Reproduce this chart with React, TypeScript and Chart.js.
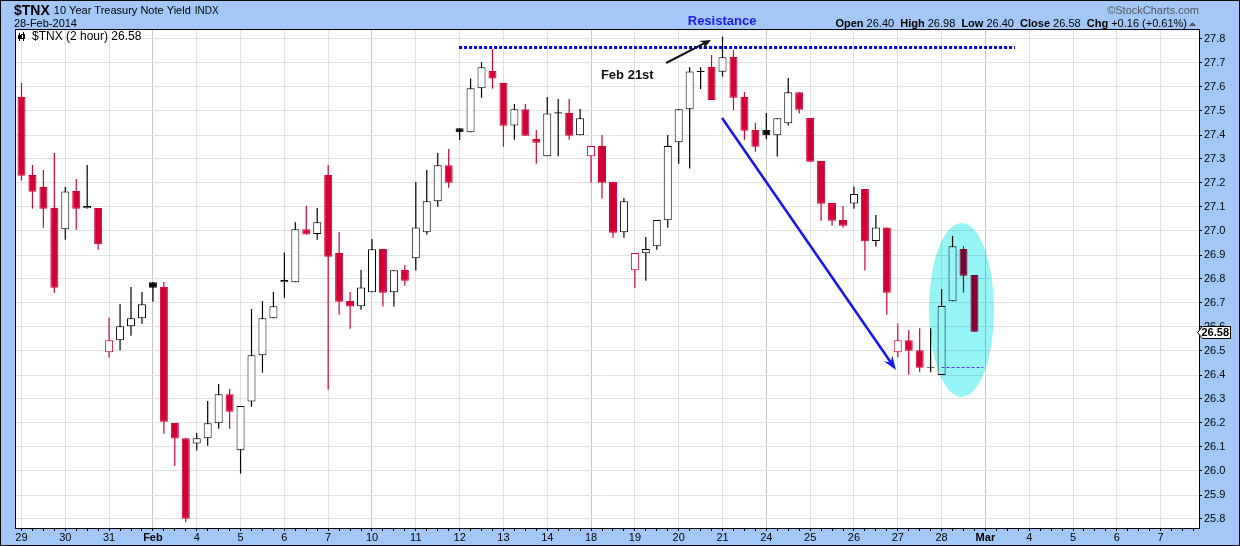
import React, { useEffect, useRef } from 'react';
import { Chart, registerables } from 'chart.js';

Chart.register(...registerables);

// ---------------- data ----------------
const DAY_LABELS = ['29', '30', '31', 'Feb', '4', '5', '6', '7', '10', '11', '12', '13', '14', '18', '19', '20', '21', '24', '25', '26', '27', '28', 'Mar', '4', '5', '6', '7'];
const WEEK_START_DAYS = ['Feb', '10', '18', '24', 'Mar'];
const MONTH_DAYS = ['Feb', 'Mar'];
const BARS_PER_DAY = 4;

const OPEN = [
  27.558, 27.233, 27.183, 27.096, 27.007, 27.167, 27.095, 27.096,
  26.495, 26.545, 26.603, 26.636, 26.786, 26.767, 26.2, 26.136,
  26.115, 26.136, 26.199, 26.32, 26.086, 26.29, 26.482, 26.636,
  26.786, 26.786, 27.007, 26.988, 27.233, 26.908, 26.708, 26.686,
  26.745, 26.925, 26.745, 26.838, 26.886, 26.995, 27.124, 27.274,
  27.428, 27.411, 27.595, 27.667, 27.617, 27.44, 27.507, 27.383,
  27.311, 27.49, 27.492, 27.399, 27.311, 27.354, 27.204, 26.995,
  26.836, 26.907, 26.936, 27.045, 27.37, 27.507, 27.663, 27.683,
  27.664, 27.725, 27.558, 27.421, 27.421, 27.399, 27.449, 27.578,
  27.471, 27.292, 27.117, 27.046, 27.115, 27.175, 26.958, 27.015,
  26.495, 26.545, 26.503, 26.43, 26.4, 26.707, 26.925, 26.817,
];
const HIGH = [
  27.618, 27.275, 27.254, 27.325, 27.183, 27.217, 27.275, 27.096,
  26.639, 26.696, 26.767, 26.746, 26.786, 26.788, 26.2, 26.136,
  26.158, 26.292, 26.363, 26.342, 26.271, 26.675, 26.708, 26.746,
  26.91, 27.036, 27.105, 27.096, 27.275, 26.996, 26.746, 26.838,
  26.967, 26.925, 26.836, 26.858, 27.204, 27.254, 27.325, 27.342,
  27.428, 27.636, 27.704, 27.758, 27.617, 27.529, 27.529, 27.421,
  27.558, 27.55, 27.55, 27.508, 27.354, 27.4, 27.204, 27.137,
  26.908, 26.975, 27.046, 27.4, 27.507, 27.682, 27.682, 27.733,
  27.81, 27.754, 27.579, 27.45, 27.492, 27.47, 27.638, 27.578,
  27.471, 27.292, 27.117, 27.104, 27.185, 27.175, 27.067, 27.015,
  26.615, 26.586, 26.595, 26.595, 26.758, 26.98, 26.936, 26.817,
];
const LOW = [
  27.21, 27.093, 27.014, 26.743, 26.964, 27.005, 27.094, 26.922,
  26.472, 26.503, 26.564, 26.614, 26.705, 26.155, 26.022, 25.785,
  26.085, 26.105, 26.176, 26.176, 25.989, 26.268, 26.41, 26.636,
  26.722, 26.786, 26.985, 26.964, 26.339, 26.651, 26.593, 26.672,
  26.745, 26.685, 26.685, 26.772, 26.835, 26.985, 27.101, 27.18,
  27.379, 27.411, 27.555, 27.593, 27.351, 27.38, 27.397, 27.28,
  27.311, 27.311, 27.38, 27.399, 27.201, 27.135, 26.972, 26.972,
  26.764, 26.793, 26.922, 27.014, 27.28, 27.26, 27.592, 27.546,
  27.643, 27.504, 27.38, 27.33, 27.382, 27.31, 27.44, 27.49,
  27.289, 27.043, 27.022, 27.014, 27.093, 26.835, 26.935, 26.651,
  26.474, 26.401, 26.411, 26.411, 26.4, 26.707, 26.743, 26.58,
];
const CLOSE = [
  27.23, 27.164, 27.093, 26.764, 27.165, 27.093, 27.104, 26.945,
  26.545, 26.603, 26.636, 26.695, 26.764, 26.205, 26.135, 25.801,
  26.136, 26.199, 26.32, 26.247, 26.271, 26.482, 26.636, 26.686,
  26.796, 27.007, 26.985, 27.036, 26.893, 26.705, 26.685, 26.765,
  26.924, 26.743, 26.836, 26.793, 27.015, 27.124, 27.274, 27.201,
  27.411, 27.595, 27.682, 27.635, 27.439, 27.507, 27.397, 27.368,
  27.49, 27.495, 27.397, 27.47, 27.354, 27.201, 26.993, 27.124,
  26.908, 26.925, 27.046, 27.354, 27.507, 27.665, 27.667, 27.546,
  27.724, 27.555, 27.418, 27.351, 27.399, 27.47, 27.578, 27.505,
  27.289, 27.114, 27.043, 27.022, 27.154, 26.957, 27.015, 26.743,
  26.545, 26.501, 26.43, 26.434, 26.688, 26.936, 26.814, 26.58,
];
const PRIOR_CLOSE = 27.62;

const Y_TICKS = [25.8, 25.9, 26.0, 26.1, 26.2, 26.3, 26.4, 26.5, 26.6, 26.7, 26.8, 26.9, 27.0, 27.1, 27.2, 27.3, 27.4, 27.5, 27.6, 27.7, 27.8];
const Y_MIN = 25.7625;
const Y_MAX = 27.8375;

const QUOTE_OPEN = 26.4;
const QUOTE_HIGH = 26.98;
const QUOTE_LOW = 26.4;
const QUOTE_CLOSE = 26.58;
const QUOTE_CHG = 0.16;
const QUOTE_PCT = 0.61;

// annotations (in data units: slot index / price)
const RESISTANCE = { level: 27.767, from: 39.95, to: 90.7 };
const BLACK_ARROW = { from: [58.85, 27.7], to: [62.95, 27.796] };
const BLUE_ARROW = { from: [63.96, 27.471], to: [79.84, 26.421] };
const FEB21_LABEL = { at: [52.9, 27.65], text: 'Feb 21st' };
const RESISTANCE_LABEL = { at: [63.96, 27.875], text: 'Resistance' };
const HIGHLIGHT = { center: [85.82, 26.671], halfSlots: 2.97, halfPrice: 0.3625 };
const OPEN_LINE = { level: 26.432, from: 84, to: 87.8 };

// ---------------- derived ----------------
const SLOT_LABELS: string[] = DAY_LABELS.flatMap((d) => [d, ...Array(BARS_PER_DAY - 1).fill('')]);
const RED = '#d10035';
const BLACK = '#000000';
const PANEL = '#a3c8f7';
const FONT = "'Liberation Sans', Arial, sans-serif";

const candleColor = CLOSE.map((c, i) => (c < (i === 0 ? PRIOR_CLOSE : CLOSE[i - 1]) ? RED : BLACK));
const candleFill = CLOSE.map((c, i) => (c >= OPEN[i] ? '#ffffff' : candleColor[i]));

function arrow(ctx: CanvasRenderingContext2D, x1: number, y1: number, x2: number, y2: number, color: string, w: number, hl: number, hw: number) {
  const a = Math.atan2(y2 - y1, x2 - x1);
  const c = Math.cos(a), s = Math.sin(a);
  ctx.strokeStyle = color;
  ctx.fillStyle = color;
  ctx.lineWidth = w;
  ctx.beginPath();
  ctx.moveTo(x1, y1);
  ctx.lineTo(x2 - c * hl * 0.6, y2 - s * hl * 0.6);
  ctx.stroke();
  ctx.beginPath();
  ctx.moveTo(x2, y2);
  ctx.lineTo(x2 - c * hl - s * hw, y2 - s * hl + c * hw);
  ctx.lineTo(x2 - c * hl * 0.65, y2 - s * hl * 0.65);
  ctx.lineTo(x2 - c * hl + s * hw, y2 - s * hl - c * hw);
  ctx.closePath();
  ctx.fill();
}

const decor = {
  id: 'decor',
  beforeDraw(chart: any) {
    const { ctx, chartArea: a, width, height } = chart;
    ctx.save();
    ctx.fillStyle = PANEL;
    ctx.fillRect(0, 0, width, height);
    ctx.fillStyle = '#ffffff';
    ctx.fillRect(a.left, a.top, a.right - a.left, a.bottom - a.top);
    ctx.restore();
  },
  afterDatasetsDraw(chart: any) {
    const { ctx, scales } = chart;
    const X = (v: number) => scales.x.getPixelForValue(v);
    const Y = (v: number) => scales.y.getPixelForValue(v);
    ctx.save();
    // highlight ellipse
    ctx.globalCompositeOperation = 'multiply';
    ctx.fillStyle = '#97f4f4';
    const cx = X(HIGHLIGHT.center[0]);
    const cy = Y(HIGHLIGHT.center[1]);
    const rx = X(HIGHLIGHT.center[0] + HIGHLIGHT.halfSlots) - cx;
    const ry = Y(HIGHLIGHT.center[1] - HIGHLIGHT.halfPrice) - cy;
    ctx.beginPath();
    ctx.ellipse(cx, cy, rx, ry, 0, 0, Math.PI * 2);
    ctx.fill();
    ctx.globalCompositeOperation = 'source-over';

    // open dashed line
    ctx.strokeStyle = '#5a2ee0';
    ctx.lineWidth = 1;
    ctx.setLineDash([3, 2]);
    const oy = Math.round(Y(OPEN_LINE.level)) + 0.5;
    ctx.beginPath();
    ctx.moveTo(X(OPEN_LINE.from), oy);
    ctx.lineTo(X(OPEN_LINE.to), oy);
    ctx.stroke();

    // resistance line
    ctx.strokeStyle = '#0000f0';
    ctx.lineWidth = 3;
    ctx.setLineDash([3, 2]);
    const ry2 = Math.round(Y(RESISTANCE.level)) + 0.5;
    ctx.beginPath();
    ctx.moveTo(X(RESISTANCE.from), ry2);
    ctx.lineTo(X(RESISTANCE.to), ry2);
    ctx.stroke();
    ctx.setLineDash([]);

    // arrows
    arrow(ctx, X(BLACK_ARROW.from[0]), Y(BLACK_ARROW.from[1]), X(BLACK_ARROW.to[0]), Y(BLACK_ARROW.to[1]), '#111111', 2, 11, 4.5);
    arrow(ctx, X(BLUE_ARROW.from[0]), Y(BLUE_ARROW.from[1]), X(BLUE_ARROW.to[0]), Y(BLUE_ARROW.to[1]), '#1414ee', 2.5, 14, 5);

    // labels
    ctx.font = `bold 13px ${FONT}`;
    ctx.textBaseline = 'middle';
    ctx.fillStyle = '#111111';
    ctx.textAlign = 'left';
    ctx.fillText(FEB21_LABEL.text, X(FEB21_LABEL.at[0]), Y(FEB21_LABEL.at[1]));
    ctx.fillStyle = '#1a1aee';
    ctx.textAlign = 'center';
    ctx.fillText(RESISTANCE_LABEL.text, X(RESISTANCE_LABEL.at[0]), Y(RESISTANCE_LABEL.at[1]));
    ctx.restore();
  },
  afterDraw(chart: any) {
    const { ctx, chartArea: a, width, height, scales } = chart;
    ctx.save();
    // plot frame
    ctx.strokeStyle = '#000000';
    ctx.lineWidth = 1;
    ctx.strokeRect(a.left - 0.5, a.top - 0.5, a.right - a.left + 1, a.bottom - a.top + 1);
    // outer frame
    ctx.strokeStyle = '#0a0a0a';
    ctx.strokeRect(0.5, 0.5, width - 1, height - 1);

    // legend inside plot
    const lx = a.left + 3;
    ctx.fillStyle = '#000';
    ctx.fillRect(lx, 33, 1, 8);
    ctx.fillRect(lx - 1, 35, 3, 4);
    ctx.fillRect(lx + 4, 32, 1, 9);
    ctx.strokeStyle = '#000';
    ctx.strokeRect(lx + 2.5, 34.5, 3, 4);
    ctx.font = `12px ${FONT}`;
    ctx.textAlign = 'left';
    ctx.textBaseline = 'middle';
    ctx.fillText(`$TNX (2 hour) ${QUOTE_CLOSE.toFixed(2)}`, lx + 13, 37);

    // header
    ctx.textBaseline = 'middle';
    ctx.font = `bold 14px ${FONT}`;
    ctx.fillText('$TNX', 14, 11);
    let hx = 14 + ctx.measureText('$TNX').width + 4;
    ctx.font = `11px ${FONT}`;
    ctx.fillText('10 Year Treasury Note Yield', hx, 11);
    hx += ctx.measureText('10 Year Treasury Note Yield').width + 4;
    ctx.font = `10px ${FONT}`;
    ctx.fillText('INDX', hx, 11);
    ctx.font = `11px ${FONT}`;
    ctx.fillText('28-Feb-2014', 14, 24);

    ctx.fillStyle = '#555555';
    ctx.textAlign = 'right';
    ctx.fillText('\u00A9StockCharts.com', a.right, 11);

    // quote line
    const parts: [string, boolean][] = [
      ['Open ', true], [QUOTE_OPEN.toFixed(2) + '  ', false],
      ['High ', true], [QUOTE_HIGH.toFixed(2) + '  ', false],
      ['Low ', true], [QUOTE_LOW.toFixed(2) + '  ', false],
      ['Close ', true], [QUOTE_CLOSE.toFixed(2) + '  ', false],
      ['Chg ', true], [`+${QUOTE_CHG.toFixed(2)} (+${QUOTE_PCT.toFixed(2)}%)`, false],
    ];
    let total = 0;
    for (const [t, b] of parts) {
      ctx.font = `${b ? 'bold ' : ''}11px ${FONT}`;
      total += ctx.measureText(t).width;
    }
    let qx = 1187 - total;
    ctx.textAlign = 'left';
    ctx.fillStyle = '#000';
    for (const [t, b] of parts) {
      ctx.font = `${b ? 'bold ' : ''}11px ${FONT}`;
      ctx.fillText(t, qx, 24);
      qx += ctx.measureText(t).width;
    }
    ctx.fillStyle = '#555555';
    ctx.beginPath();
    ctx.moveTo(qx + 2, 26);
    ctx.lineTo(qx + 9, 26);
    ctx.lineTo(qx + 5.5, 22);
    ctx.closePath();
    ctx.fill();

    // last price tag
    const ty = Math.round(scales.y.getPixelForValue(QUOTE_CLOSE)) + 0.5;
    const tx = a.right - 1.5;
    ctx.fillStyle = '#ffffff';
    ctx.strokeStyle = '#000000';
    ctx.beginPath();
    ctx.moveTo(tx, ty);
    ctx.lineTo(tx + 5, ty - 6);
    ctx.lineTo(tx + 33, ty - 6);
    ctx.lineTo(tx + 33, ty + 6);
    ctx.lineTo(tx + 5, ty + 6);
    ctx.closePath();
    ctx.fill();
    ctx.stroke();
    ctx.fillStyle = '#000';
    ctx.font = `bold 11px ${FONT}`;
    ctx.textAlign = 'left';
    ctx.fillText(QUOTE_CLOSE.toFixed(2), tx + 4, ty + 0.5);
    ctx.restore();
  },
};

export default function App() {
  const ref = useRef<HTMLCanvasElement>(null);
  useEffect(() => {
    document.body.style.margin = '0';
    const canvas = ref.current!;
    const chart = new Chart(canvas, {
      type: 'bar',
      data: {
        labels: SLOT_LABELS,
        datasets: [
          {
            label: 'body',
            data: OPEN.map((o, i) => [o, CLOSE[i]]) as any,
            backgroundColor: candleFill,
            borderColor: candleColor,
            borderWidth: 1,
            borderSkipped: false,
            barThickness: 8,
            grouped: false,
            inflateAmount: 0,
            order: 0,
          } as any,
          {
            label: 'wick',
            data: LOW.map((l, i) => [l, HIGH[i]]) as any,
            backgroundColor: candleColor,
            borderWidth: 0,
            barThickness: 1.2,
            grouped: false,
            inflateAmount: 0,
            order: 1,
          } as any,
        ],
      },
      options: {
        responsive: false,
        animation: false,
        devicePixelRatio: 1,
        events: [],
        layout: { padding: { left: 16, top: 30, right: 0, bottom: 3 } },
        plugins: { legend: { display: false }, tooltip: { enabled: false }, title: { display: false } },
        scales: {
          x: {
            type: 'category',
            offset: true,
            grid: {
              offset: false,
              color: (c: any) => {
                const l = SLOT_LABELS[c.index];
                if (!l) return 'rgba(0,0,0,0)';
                return WEEK_START_DAYS.includes(l) ? '#c6c6c6' : '#e2e2e2';
              },
              tickColor: '#000',
              tickLength: 3,
              lineWidth: 1,
            },
            border: { display: true, color: '#000' },
            ticks: {
              autoSkip: false,
              maxRotation: 0,
              minRotation: 0,
              padding: 0,
              color: '#000',
              callback: (_v: any, i: number) => SLOT_LABELS[i],
              font: (c: any) => ({
                family: FONT,
                size: 11,
                weight: c.tick && MONTH_DAYS.includes(c.tick.label) ? 'bold' : 'normal',
              }),
            },
            afterFit: (s: any) => { s.height = 15; },
          },
          y: {
            type: 'linear',
            position: 'right',
            min: Y_MIN,
            max: Y_MAX,
            grid: { color: '#e2e2e2', tickColor: '#000', tickLength: 3, lineWidth: 1 },
            border: { display: true, color: '#000' },
            afterBuildTicks: (s: any) => { s.ticks = Y_TICKS.map((v) => ({ value: v })); },
            ticks: {
              padding: 2,
              color: '#000',
              font: { family: FONT, size: 11 },
              callback: (v: any) => Number(v).toFixed(1),
            },
            afterFit: (s: any) => { s.width = 41; },
          },
        },
      } as any,
      plugins: [decor],
    });
    return () => chart.destroy();
  }, []);
  return (
    <div style={{ width: 1240, height: 546 }}>
      <canvas ref={ref} width={1240} height={546} style={{ display: 'block', width: 1240, height: 546 }} />
    </div>
  );
}
